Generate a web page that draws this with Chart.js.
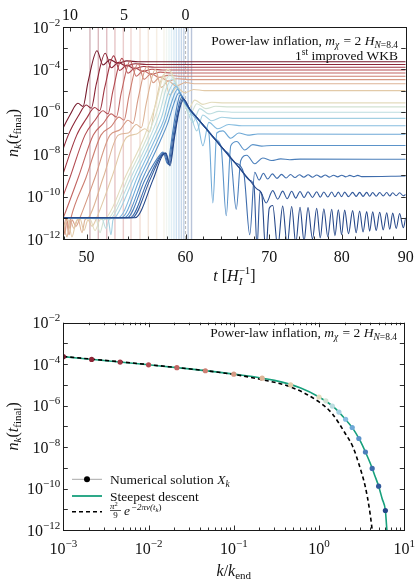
<!DOCTYPE html>
<html>
<head>
<meta charset="utf-8">
<script src="https://cdn.jsdelivr.net/npm/chart.js@4.4.1/dist/chart.umd.min.js"></script>
<style>
  html, body { margin: 0; padding: 0; background: #fff; }
  #wrap { position: relative; width: 415px; height: 587px; }
  canvas { position: absolute; left: 0; }
  #topChart { top: 0; }
  #bottomChart { top: 290px; }
</style>
</head>
<body>
<div id="wrap">
  <canvas id="topChart" width="415" height="290" style="width:415px;height:290px"></canvas>
  <canvas id="bottomChart" width="415" height="297" style="width:415px;height:297px"></canvas>
</div>
<script>
// ---------------- data: top panel (n_k vs t) ----------------
const tRange = [47.9, 90];
const nRange = [1e-12, 1e-2];
const tMajorTicks = [50, 60, 70, 80, 90];
const tMinorTicks = [48, 52, 54, 56, 58, 62, 64, 66, 68, 72, 74, 76, 78, 82, 84, 86, 88];
const efoldLabels = ['10', '5', '0'];
const efoldTimes = [48.49, 53.57, 60.0];
const efoldMinorTimes = [49.47, 50.46, 51.48, 52.51, 54.80, 56.06, 57.35, 58.67];
const decadeExps = [-12, -11, -10, -9, -8, -7, -6, -5, -4, -3, -2];
const labelExps = [-12, -10, -8, -6, -4, -2];
const markTime = 60;

// faint vertical line of each mode
const modeTimes = [50.31, 51.09, 51.89, 52.68, 53.50, 54.26, 55.17, 56.02, 56.89, 57.66,
                   57.93, 58.20, 58.46, 58.73, 58.99, 59.27, 59.54, 59.81, 60.28, 60.66];

// tracks: [t, log10 n_k]
const mode00 = [[45.05,-11.0],[46.31,-9.1],[47.61,-7.1],[48.49,-6.15],[49.21,-5.6],[49.67,-5.75],[50.13,-4.6],[50.97,-3.12],[51.53,-3.79],[52.20,-3.54],[52.98,-3.71],[53.86,-3.6],[54.97,-3.64],[90,-3.64]];
const mode01 = [[45.74,-11.0],[47.03,-9.1],[48.34,-7.1],[49.24,-6.2],[49.97,-5.68],[50.43,-5.83],[50.90,-4.7],[51.75,-3.24],[52.33,-3.92],[53.01,-3.67],[53.79,-3.84],[54.69,-3.73],[55.81,-3.77],[90,-3.77]];
const mode02 = [[46.46,-11.0],[47.76,-9.1],[49.10,-7.1],[50.01,-6.3],[50.75,-5.8],[51.22,-5.95],[51.70,-4.85],[52.56,-3.36],[53.14,-4.05],[53.83,-3.8],[54.63,-3.97],[55.55,-3.86],[56.68,-3.9],[90,-3.9]];
const mode03 = [[47.17,-11.0],[48.49,-9.1],[49.85,-7.1],[50.78,-6.4],[51.53,-5.95],[52.01,-6.1],[52.49,-5.0],[53.37,-3.48],[53.96,-4.18],[54.66,-3.93],[55.47,-4.1],[56.40,-3.99],[57.56,-4.03],[90,-4.03]];
const mode04 = [[47.60,-11.4],[47.90,-11.0],[49.24,-9.1],[50.62,-7.1],[51.56,-6.55],[52.33,-6.1],[52.81,-6.25],[53.30,-5.1],[54.19,-3.6],[54.79,-4.32],[55.51,-4.06],[56.33,-4.24],[57.27,-4.13],[58.44,-4.17],[90,-4.17]];
const mode05 = [[47.90,-11.1],[48.05,-11.8],[48.20,-11.05],[48.40,-11.5],[48.58,-11.0],[49.95,-9.1],[51.34,-7.1],[52.30,-6.7],[53.08,-6.25],[53.57,-6.4],[54.06,-5.25],[54.97,-3.72],[55.58,-4.47],[56.30,-4.2],[57.13,-4.38],[58.09,-4.28],[59.27,-4.32],[90,-4.32]];
const mode06 = [[47.90,-11.6],[48.14,-11.05],[48.41,-11.8],[48.67,-11.1],[49.03,-11.4],[49.39,-11.0],[50.78,-9.1],[52.20,-7.1],[53.17,-6.85],[53.96,-6.4],[54.46,-6.55],[54.97,-5.4],[55.89,-3.85],[56.51,-4.63],[57.24,-4.36],[58.09,-4.55],[59.05,-4.44],[60.25,-4.48],[90,-4.48]];
const mode07 = [[47.90,-11.2],[48.23,-11.9],[48.49,-11.1],[48.85,-11.5],[49.21,-11.05],[49.58,-11.7],[49.85,-11.1],[50.16,-11.0],[51.56,-9.1],[53.01,-7.1],[53.99,-7.0],[54.79,-6.6],[55.30,-6.75],[55.81,-5.6],[56.75,-4.0],[57.38,-4.85],[58.12,-4.55],[58.98,-4.78],[59.97,-4.62],[61.20,-4.68],[90,-4.68]];
const mode08 = [[47.90,-11.5],[48.32,-11.1],[48.67,-11.9],[49.03,-11.2],[49.40,-11.05],[49.76,-11.6],[50.13,-11.1],[50.50,-11.4],[50.94,-11.0],[52.37,-9.1],[53.83,-7.2],[54.83,-7.05],[55.65,-6.8],[56.16,-6.95],[56.68,-5.8],[57.63,-4.25],[58.27,-5.2],[59.03,-4.85],[59.90,-5.1],[60.90,-4.95],[62.15,-5.0],[90,-5.0]];
const mode09 = [[47.90,-11.0],[50.31,-11.05],[50.78,-11.6],[51.25,-11.1],[51.82,-11.0],[53.76,-9.0],[55.58,-7.2],[56.82,-5.6],[57.45,-4.5],[58.09,-4.0],[58.94,-4.6],[59.70,-5.5],[60.25,-5.9],[61.03,-5.45],[61.94,-5.65],[62.97,-5.55],[64.49,-5.58],[90,-5.58]];
const mode10 = [[47.90,-11.0],[50.87,-11.05],[51.25,-11.7],[51.63,-11.1],[52.11,-11.0],[54.06,-9.0],[55.89,-7.2],[57.03,-5.8],[57.66,-4.75],[58.30,-4.25],[59.16,-4.9],[59.92,-5.7],[60.47,-6.15],[61.26,-5.62],[62.28,-5.85],[63.44,-5.74],[65.09,-5.77],[90,-5.77]];
const mode11 = [[47.90,-11.0],[51.44,-11.05],[51.82,-11.5],[52.11,-11.1],[52.40,-11.0],[54.36,-9.0],[56.20,-7.2],[57.24,-6.0],[57.87,-4.95],[58.51,-4.45],[59.38,-5.1],[60.14,-5.9],[60.81,-6.5],[61.60,-5.85],[62.63,-6.1],[63.79,-5.98],[65.33,-6.02],[90,-6.02]];
const mode12 = [[47.90,-11.0],[52.01,-11.05],[52.30,-11.8],[52.49,-11.1],[52.68,-11.0],[54.66,-9.0],[56.51,-7.2],[57.45,-6.2],[58.09,-5.15],[58.73,-4.65],[59.59,-5.3],[60.47,-6.0],[61.26,-6.9],[61.94,-6.15],[62.97,-6.42],[64.14,-6.26],[65.81,-6.31],[90,-6.31]];
const mode13 = [[47.90,-11.0],[52.98,-11.0],[54.97,-9.0],[56.82,-7.2],[57.66,-6.35],[58.30,-5.3],[58.94,-4.8],[59.81,-5.5],[60.70,-6.1],[61.37,-6.55],[61.94,-7.6],[62.63,-6.5],[63.67,-6.8],[64.97,-6.6],[66.54,-6.66],[90,-6.66]];
const mode14 = [[47.90,-11.0],[53.27,-11.0],[55.27,-9.0],[57.03,-7.3],[57.87,-6.4],[58.51,-5.5],[59.10,-4.95],[59.92,-5.6],[61.03,-6.16],[62.17,-6.72],[62.63,-7.0],[63.09,-10.3],[63.55,-7.0],[64.26,-6.9],[65.21,-7.25],[66.18,-7.0],[67.28,-7.1],[68.53,-7.05],[90,-7.06]];
const mode15 = [[47.90,-11.0],[53.57,-11.0],[55.58,-9.0],[57.24,-7.4],[58.09,-6.5],[58.73,-5.6],[59.27,-5.1],[60.03,-5.6],[61.03,-6.16],[62.17,-6.72],[63.32,-7.28],[64.05,-7.65],[64.67,-10.9],[65.21,-7.6],[65.93,-7.4],[66.91,-7.8],[67.90,-7.55],[69.04,-7.62],[70.32,-7.59],[90,-7.59]];
const mode16 = [[47.90,-11.0],[53.86,-11.0],[55.68,-9.2],[57.03,-8.15],[57.56,-7.9],[58.04,-8.45],[58.51,-7.2],[58.94,-6.0],[59.43,-5.2],[60.14,-5.7],[61.03,-6.16],[62.17,-6.72],[63.32,-7.28],[64.49,-7.84],[65.21,-8.2],[65.87,-10.6],[66.42,-8.3],[67.16,-8.05],[68.15,-8.45],[69.16,-8.18],[70.32,-8.3],[71.49,-8.22],[72.68,-8.26],[74.08,-8.23],[90,-8.24]];
const mode17 = [[47.90,-11.0],[54.16,-11.0],[55.99,-9.2],[57.24,-8.1],[57.72,-7.95],[58.14,-8.5],[58.62,-7.2],[59.10,-6.0],[59.59,-5.3],[60.25,-5.75],[61.03,-6.16],[62.17,-6.72],[63.32,-7.28],[64.49,-7.84],[65.69,-8.39],[66.79,-8.9],[67.53,-11.8],[68.15,-8.85],[68.7,-9.22],[69.25,-8.9],[69.8,-9.17],[70.4,-8.93],[71.0,-9.14],[71.6,-8.95],[72.2,-9.12],[72.8,-8.96],[73.4,-9.1],[74.0,-8.97],[74.6,-9.09],[75.2,-8.97],[75.8,-9.09],[76.4,-8.98],[77.0,-9.08],[77.6,-8.98],[78.2,-9.08],[78.8,-8.99],[79.4,-9.07],[80.0,-8.99],[80.6,-9.07],[81.2,-9.0],[81.8,-9.06],[82.4,-9.0],[83.0,-9.06],[90,-9.03]];
const mode18 = [[47.90,-11.0],[54.36,-11.0],[56.20,-9.2],[57.34,-8.1],[57.82,-7.95],[58.25,-8.5],[58.73,-7.2],[59.22,-6.0],[59.70,-5.36],[60.47,-5.89],[61.60,-6.44],[62.74,-7.0],[63.90,-7.56],[65.09,-8.11],[66.30,-8.67],[67.53,-9.23],[68.06,-9.5],[68.44,-12.4],[68.82,-9.75],[69.6,-10.3],[70.45,-9.72],[71.1,-10.12],[71.75,-9.74],[72.35,-10.1],[72.95,-9.75],[73.5,-10.07],[74.08,-9.76],[74.63,-10.05],[75.18,-9.77],[75.8,-10.04],[76.39,-9.77],[76.9,-10.03],[77.4,-9.78],[77.97,-10.02],[78.53,-9.78],[79.0,-10.01],[79.5,-9.79],[79.97,-10.0],[80.43,-9.79],[81.0,-10.0],[81.62,-9.8],[82.15,-9.99],[82.68,-9.8],[83.2,-9.99],[83.76,-9.8],[84.22,-9.98],[84.69,-9.81],[85.24,-9.98],[85.79,-9.81],[86.35,-9.97],[86.91,-9.81],[87.39,-9.97],[87.87,-9.82],[88.44,-9.96],[89.0,-9.82],[89.6,-9.96],[90.0,-9.9]];
const mode19 = [[47.90,-11.0],[54.66,-11.0],[56.51,-9.2],[57.45,-8.1],[57.87,-7.95],[58.30,-8.55],[58.79,-7.2],[59.27,-6.0],[59.81,-5.42],[60.47,-5.89],[61.60,-6.44],[62.74,-7.0],[63.90,-7.56],[65.09,-8.11],[66.30,-8.67],[67.53,-9.23],[68.53,-9.67],[69.04,-9.9],[69.55,-12.6],[70.0,-10.55],[70.45,-10.42],[71.1,-12.4],[71.75,-10.45],[72.35,-12.3],[72.95,-10.47],[73.5,-12.2],[74.08,-10.5],[74.63,-12.1],[75.18,-10.52],[75.8,-12.0],[76.39,-10.55],[76.9,-11.95],[77.4,-10.57],[77.97,-11.9],[78.53,-10.6],[79.0,-11.85],[79.5,-10.62],[79.97,-11.8],[80.43,-10.64],[81.0,-11.75],[81.62,-10.66],[82.15,-11.7],[82.68,-10.68],[83.2,-11.67],[83.76,-10.7],[84.22,-11.63],[84.69,-10.72],[85.24,-11.6],[85.79,-10.74],[86.35,-11.57],[86.91,-10.76],[87.39,-11.54],[87.87,-10.78],[88.44,-11.5],[89.0,-10.8],[89.6,-11.47],[90.0,-11.0]];
const modeTracks = [mode00, mode01, mode02, mode03, mode04, mode05, mode06, mode07, mode08, mode09,
                    mode10, mode11, mode12, mode13, mode14, mode15, mode16, mode17, mode18, mode19];

// ---------------- data: bottom panel (n_k vs k) ----------------
const kRange = [1e-3, 10];
const kDecades = [-3, -2, -1, 0, 1];
const kValues = [1e-3, 2.15e-3, 4.64e-3, 1e-2, 2.15e-2, 4.64e-2, 0.1, 0.215, 0.464, 1.0,
                 1.2, 1.43, 1.71, 2.05, 2.45, 2.93, 3.5, 4.2, 5.0, 6.0];
const nFinal = [2.3e-4, 1.7e-4, 1.26e-4, 9.3e-5, 6.8e-5, 4.8e-5, 3.3e-5, 2.1e-5, 1.0e-5, 2.6e-6,
                1.7e-6, 9.5e-7, 4.9e-7, 2.2e-7, 8.8e-8, 2.6e-8, 5.8e-9, 9.3e-10, 1.3e-10, 8.7e-12];
const steepK = [1e-3, 3e-3, 1e-2, 3e-2, 0.1, 0.3, 0.6, 1.0, 1.5, 2.0, 2.5, 3.0, 3.5, 4.0, 4.5, 5.0, 5.5, 6.0, 6.25, 6.4];
const steepN = [2.3e-4, 1.5e-4, 9.3e-5, 5.9e-5, 3.3e-5, 1.65e-5, 7.3e-6, 2.6e-6, 8.3e-7, 2.4e-7,
                7.8e-8, 2.2e-8, 5.8e-9, 1.6e-9, 4.3e-10, 1.3e-10, 3.2e-11, 8.7e-12, 1e-12, 4e-13];
const approxK = [1e-3, 1e-2, 0.1, 0.212, 0.46, 1.0, 1.42, 2.03, 2.5, 2.92, 3.49, 3.9, 4.2, 4.3];
const approxN = [2.35e-4, 9.5e-5, 3.2e-5, 1.8e-5, 8.1e-6, 1.5e-6, 4.2e-7, 4.5e-8, 1e-8, 1.6e-9, 1.2e-10, 1e-11, 1e-12, 4e-13];

// ---------------- styles ----------------
const modeColors = ['#761a2c', '#8c2536', '#a03643', '#b34c52', '#c26562', '#cd7f72', '#d69a84', '#ddb496', '#e2caa8', '#e3dcbd',
                    '#d2e2d2', '#bcdde0', '#a3d0e2', '#87bde0', '#6ea8d6', '#5b93c9', '#4b7fbb', '#3e6cac', '#32599b', '#254789'];
const steepColor = '#17a07c';
const SERIF = '"Liberation Serif", "DejaVu Serif", serif';

function fade(hex, a) {
    const n = parseInt(hex.slice(1), 16);
    return `rgba(${n >> 16},${(n >> 8) & 255},${n & 255},${a})`;
}

function fontOf(p) { return (p.i ? 'italic ' : '') + p.s + 'px ' + SERIF; }

// draw a row of text pieces (sub/superscripts via dy)
function drawRuns(ctx, parts, x, y, align) {
    let total = 0;
    parts.forEach(p => {
        ctx.font = fontOf(p);
        p.w = p.stack ? 0 : ctx.measureText(p.t).width + (p.g || 0);
        total += p.w;
    });
    let cx = align === 'right' ? x - total : align === 'center' ? x - total / 2 : x;
    parts.forEach(p => {
        ctx.font = fontOf(p);
        ctx.fillText(p.t, cx, y + (p.dy || 0));
        cx += p.w;
    });
}

const powParts = e => [{ t: '10', s: 16 }, { t: (e < 0 ? '\u2212' : '') + Math.abs(e), s: 11, dy: -7 }];
const titleParts = () => [
    { t: 'Power-law inflation, ', s: 13.5 },
    { t: 'm', s: 13.5, i: 1 },
    { t: 'χ', s: 9.5, i: 1, dy: 3, g: 1 },
    { t: ' = 2 ', s: 13.5 },
    { t: 'H', s: 13.5, i: 1 },
    { t: 'N', s: 9.5, i: 1, dy: 3 },
    { t: '=8.4', s: 9.5, dy: 3 }
];
const nkParts = () => [
    { t: 'n', s: 16, i: 1 }, { t: 'k', s: 11, i: 1, dy: 3 }, { t: '(', s: 16 },
    { t: 't', s: 16, i: 1 }, { t: 'final', s: 11, dy: 3 }, { t: ')', s: 16 }
];

function tick(ctx, x0, y0, x1, y1) {
    ctx.beginPath(); ctx.moveTo(x0, y0); ctx.lineTo(x1, y1); ctx.stroke();
}

function drawFrame(ctx, a) {
    ctx.strokeStyle = '#1a1a1a';
    ctx.lineWidth = 1;
    const l = Math.round(a.left) + 0.5, t = Math.round(a.top) + 0.5;
    ctx.strokeRect(l, t, Math.round(a.right) - Math.round(a.left), Math.round(a.bottom) - Math.round(a.top));
}

function drawYAxis(ctx, a, y) {
    ctx.lineWidth = 0.9;
    decadeExps.forEach(e => {
        const py = Math.round(y.getPixelForValue(10 ** e)) + 0.5;
        tick(ctx, a.left, py, a.left + 4.5, py);
        tick(ctx, a.right, py, a.right - 4.5, py);
    });
    ctx.fillStyle = '#111';
    labelExps.forEach(e => drawRuns(ctx, powParts(e), a.left - 3, y.getPixelForValue(10 ** e) + 5.5, 'right'));
}

// ---------------- top chart ----------------
const topDatasets = [];
modeTimes.forEach((t, i) => topDatasets.push({
    data: [{ x: t, y: nRange[0] }, { x: t, y: nRange[1] }],
    borderColor: fade(modeColors[i], 0.32), borderWidth: 1.4, order: 100
}));
topDatasets.push({
    data: [{ x: markTime, y: nRange[0] }, { x: markTime, y: nRange[1] }],
    borderColor: '#b8b8b8', borderWidth: 1, borderDash: [3, 2], order: 99
});
modeTracks.forEach((trk, i) => topDatasets.push({
    data: trk.map(([t, e]) => ({ x: t, y: 10 ** e })),
    borderColor: modeColors[i], borderWidth: 1.1,
    cubicInterpolationMode: 'monotone', order: 40 - i
}));

const topAxes = {
    id: 'topAxes',
    afterDraw(chart) {
        const { ctx, chartArea: a, scales: { x, y } } = chart;
        ctx.save();
        drawFrame(ctx, a);
        drawYAxis(ctx, a, y);
        ctx.strokeStyle = '#1a1a1a';
        tMajorTicks.forEach(t => { const px = Math.round(x.getPixelForValue(t)) + 0.5; tick(ctx, px, a.bottom, px, a.bottom - 4.5); });
        tMinorTicks.forEach(t => { const px = Math.round(x.getPixelForValue(t)) + 0.5; tick(ctx, px, a.bottom, px, a.bottom - 2.5); });
        efoldTimes.forEach(t => { const px = Math.round(x.getPixelForValue(t)) + 0.5; tick(ctx, px, a.top, px, a.top + 4.5); });
        efoldMinorTimes.forEach(t => { const px = Math.round(x.getPixelForValue(t)) + 0.5; tick(ctx, px, a.top, px, a.top + 2.5); });

        ctx.fillStyle = '#111';
        tMajorTicks.forEach(t => drawRuns(ctx, [{ t: String(t), s: 16 }], x.getPixelForValue(t), a.bottom + 22.5, 'center'));
        efoldLabels.forEach((lab, i) => drawRuns(ctx, [{ t: lab, s: 16 }], x.getPixelForValue(efoldTimes[i]), a.top - 7, 'center'));

        // axis titles
        drawRuns(ctx, [
            { t: 't', s: 16, i: 1, g: 4 }, { t: '[', s: 16 }, { t: 'H', s: 16, i: 1 },
            { t: 'I', s: 11, i: 1, dy: 3.5, stack: true }, { t: '\u22121', s: 11, dy: -7 }, { t: ']', s: 16 }
        ], (a.left + a.right) / 2, 281, 'center');
        ctx.save();
        ctx.translate(18, (a.top + a.bottom) / 2);
        ctx.rotate(-Math.PI / 2);
        drawRuns(ctx, nkParts(), 0, 0, 'center');
        ctx.restore();

        // annotation
        drawRuns(ctx, titleParts(), 398, 45, 'right');
        drawRuns(ctx, [{ t: '1', s: 13.5 }, { t: 'st', s: 9.5, dy: -5 }, { t: ' improved WKB', s: 13.5 }], 398, 59.5, 'right');
        ctx.restore();
    }
};

new Chart(document.getElementById('topChart'), {
    type: 'line',
    data: { datasets: topDatasets },
    options: {
        responsive: false, animation: false, devicePixelRatio: 1,
        layout: { padding: { left: 63.3, top: 27, right: 9.3, bottom: 51 } },
        plugins: { legend: { display: false }, tooltip: { enabled: false } },
        elements: { point: { radius: 0 } },
        scales: {
            x: { type: 'logarithmic', min: tRange[0], max: tRange[1], display: false },
            y: { type: 'logarithmic', min: nRange[0], max: nRange[1], display: false }
        }
    },
    plugins: [topAxes]
});

// ---------------- bottom chart ----------------
const kMajorTicks = kDecades.map(d => 10 ** d);
const kMinorTicks = [];
kDecades.slice(0, -1).forEach(d => { for (let m = 2; m <= 9; m++) kMinorTicks.push(m * 10 ** d); });

const bottomAxes = {
    id: 'bottomAxes',
    afterDraw(chart) {
        const { ctx, chartArea: a, scales: { x, y } } = chart;
        ctx.save();
        drawFrame(ctx, a);
        drawYAxis(ctx, a, y);
        ctx.strokeStyle = '#1a1a1a';
        kMajorTicks.forEach(k => {
            const px = Math.round(x.getPixelForValue(k)) + 0.5;
            tick(ctx, px, a.bottom, px, a.bottom - 4.5);
            tick(ctx, px, a.top, px, a.top + 4.5);
        });
        kMinorTicks.forEach(k => {
            const px = Math.round(x.getPixelForValue(k)) + 0.5;
            tick(ctx, px, a.bottom, px, a.bottom - 2.5);
            tick(ctx, px, a.top, px, a.top + 2.5);
        });
        ctx.fillStyle = '#111';
        kDecades.forEach(d => drawRuns(ctx, powParts(d), x.getPixelForValue(10 ** d), a.bottom + 23.5, 'center'));

        // axis titles
        drawRuns(ctx, [{ t: 'k', s: 16, i: 1 }, { t: '/', s: 16 }, { t: 'k', s: 16, i: 1 }, { t: 'end', s: 11, dy: 3 }],
            (a.left + a.right) / 2, 286, 'center');
        ctx.save();
        ctx.translate(18, (a.top + a.bottom) / 2);
        ctx.rotate(-Math.PI / 2);
        drawRuns(ctx, nkParts(), 0, 0, 'center');
        ctx.restore();

        drawRuns(ctx, titleParts(), 397, 47.3, 'right');

        // legend
        const x0 = 72, x1 = 102, tx = 110;
        const rows = [189.3, 206, 221.7];
        ctx.strokeStyle = '#a8a8a8'; ctx.lineWidth = 1;
        tick(ctx, x0, rows[0], x1, rows[0]);
        ctx.fillStyle = '#000';
        ctx.beginPath(); ctx.arc((x0 + x1) / 2, rows[0], 3, 0, Math.PI * 2); ctx.fill();
        ctx.strokeStyle = steepColor; ctx.lineWidth = 1.8;
        tick(ctx, x0, rows[1], x1, rows[1]);
        ctx.strokeStyle = '#000'; ctx.lineWidth = 1.6; ctx.setLineDash([4, 3]);
        tick(ctx, x0, rows[2], x1, rows[2]);
        ctx.setLineDash([]);

        ctx.fillStyle = '#111';
        drawRuns(ctx, [{ t: 'Numerical solution ', s: 13.5 }, { t: 'X', s: 13.5, i: 1 }, { t: 'k', s: 9.5, i: 1, dy: 3 }], tx, rows[0] + 4.5, 'left');
        drawRuns(ctx, [{ t: 'Steepest descent', s: 13.5 }], tx, rows[1] + 4.5, 'left');
        const r = rows[2];
        drawRuns(ctx, [{ t: 'π', s: 9, i: 1 }, { t: '2', s: 6.5, dy: -3 }], tx, r - 3, 'left');
        ctx.fillRect(tx, r - 1.6, 11, 0.7);
        drawRuns(ctx, [{ t: '9', s: 9 }], tx + 5.5, r + 6.5, 'center');
        drawRuns(ctx, [
            { t: 'e', s: 13.5, i: 1, g: 1 }, { t: '\u22122πν(', s: 9, i: 1, dy: -5.5 }, { t: 't', s: 9, i: 1, dy: -5.5 },
            { t: 'k', s: 6.5, i: 1, dy: -3.5 }, { t: ')', s: 9, dy: -5.5 }
        ], tx + 14, r + 3.5, 'left');
        ctx.restore();
    }
};

new Chart(document.getElementById('bottomChart'), {
    type: 'line',
    data: {
        datasets: [
            {
                data: kValues.map((k, i) => ({ x: k, y: nFinal[i] })),
                showLine: false, pointRadius: 2.6, pointBorderWidth: 0,
                pointBackgroundColor: modeColors, order: 0
            },
            {
                data: approxK.map((k, i) => ({ x: k, y: approxN[i] })),
                borderColor: '#000', borderWidth: 1.6, borderDash: [4, 3], pointRadius: 0,
                cubicInterpolationMode: 'monotone', order: 1
            },
            {
                data: steepK.map((k, i) => ({ x: k, y: steepN[i] })),
                borderColor: steepColor, borderWidth: 1.6, pointRadius: 0,
                cubicInterpolationMode: 'monotone', order: 2
            }
        ]
    },
    options: {
        responsive: false, animation: false, devicePixelRatio: 1,
        layout: { padding: { left: 63.3, top: 32.7, right: 10.7, bottom: 57 } },
        plugins: { legend: { display: false }, tooltip: { enabled: false } },
        scales: {
            x: { type: 'logarithmic', min: kRange[0], max: kRange[1], display: false },
            y: { type: 'logarithmic', min: nRange[0], max: nRange[1], display: false }
        }
    },
    plugins: [bottomAxes]
});
</script>
</body>
</html>
